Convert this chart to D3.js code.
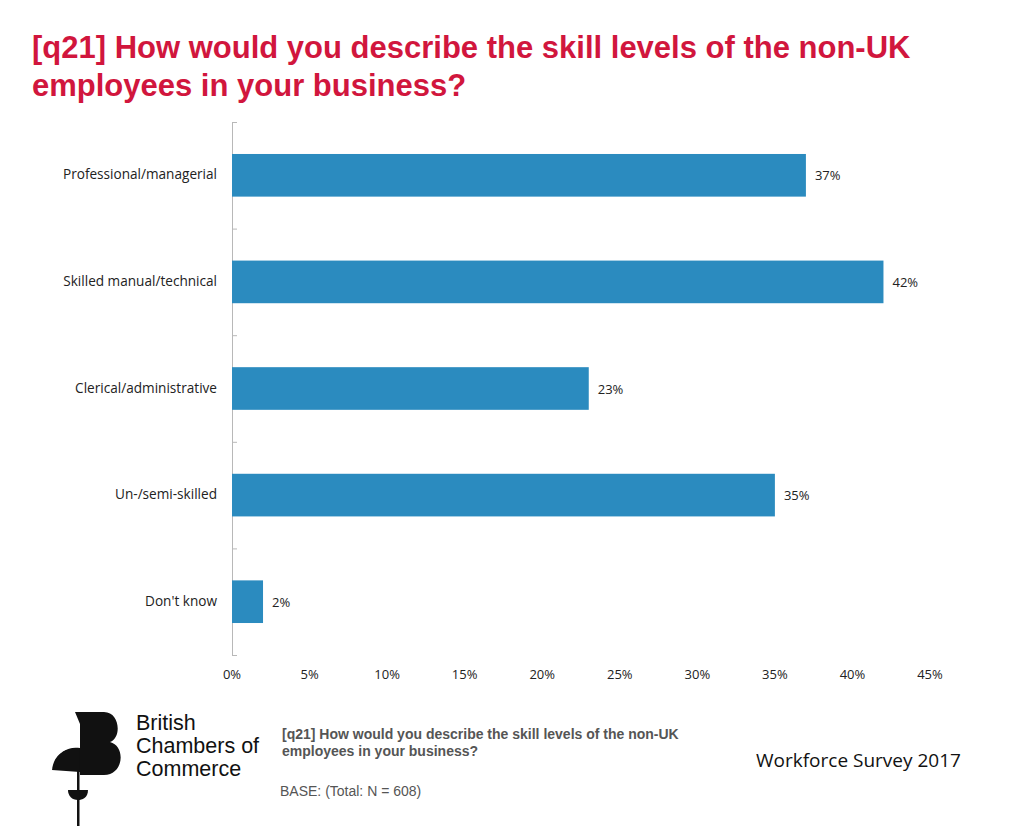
<!DOCTYPE html>
<html><head><meta charset="utf-8">
<script src="https://cdn.jsdelivr.net/npm/d3@7"></script>
<style>body{margin:0;background:#fff}svg{display:block}</style>
</head><body>
<svg id="c" width="1024" height="826"></svg>
<script>
const categories = ["Professional/managerial", "Skilled manual/technical", "Clerical/administrative", "Un-/semi-skilled", "Don't know"];
const values = [37, 42, 23, 35, 2];
const xTicks = [0, 5, 10, 15, 20, 25, 30, 35, 40, 45];

const svg = d3.select("#c");
const title = ["[q21] How would you describe the skill levels of the non-UK", "employees in your business?"];
svg.selectAll("text.title").data(title).join("text")
  .attr("x", 32).attr("y", (d, i) => 58 + i * 38)
  .attr("font-family", "Liberation Sans, Arial, sans-serif").attr("font-size", 31)
  .attr("font-weight", "bold").attr("fill", "#d1163d").text(d => d);

const x = d3.scaleLinear().domain([0, 45]).range([232, 930]);
const y = d3.scaleBand().domain(categories).range([122, 655]).paddingInner(0.6).paddingOuter(0.3);

const g = svg.append("g");
g.append("line").attr("x1", 232.5).attr("x2", 232.5).attr("y1", 122).attr("y2", 655).attr("stroke", "#b8b8b8");
const step = (655 - 122) / categories.length;
d3.range(categories.length + 1).forEach(i => {
  g.append("line").attr("x1", 232).attr("x2", 237).attr("y1", 122 + i * step + 0.5).attr("y2", 122 + i * step + 0.5).attr("stroke", "#b8b8b8");
});

g.selectAll("rect").data(values).join("rect")
  .attr("x", x(0)).attr("y", (d, i) => y(categories[i]))
  .attr("width", d => x(d) - x(0)).attr("height", y.bandwidth())
  .attr("fill", "#2b8bbf");

const font = "Open Sans, Noto Sans, sans-serif";
g.selectAll("text.val").data(values).join("text")
  .attr("x", d => x(d) + 9).attr("y", (d, i) => y(categories[i]) + y.bandwidth() / 2 + 5)
  .attr("font-family", font).attr("font-size", 13).attr("fill", "#222").text(d => d + "%");
g.selectAll("text.cat").data(categories).join("text")
  .attr("x", 217).attr("y", d => y(d) + y.bandwidth() / 2 + 4)
  .attr("text-anchor", "end").attr("font-family", font).attr("font-size", 13.6).attr("fill", "#222").text(d => d);
g.selectAll("text.xt").data(xTicks).join("text")
  .attr("x", d => x(d)).attr("y", 679).attr("text-anchor", "middle")
  .attr("font-family", font).attr("font-size", 13).attr("fill", "#222").text(d => d + "%");

// footer
const foot = svg.append("g").attr("font-family", "Liberation Sans, Arial, sans-serif").attr("fill", "#555");
foot.append("text").attr("x", 282).attr("y", 739).attr("font-size", 14).attr("font-weight", "bold").text("[q21] How would you describe the skill levels of the non-UK");
foot.append("text").attr("x", 282).attr("y", 756).attr("font-size", 14).attr("font-weight", "bold").text("employees in your business?");
foot.append("text").attr("x", 280).attr("y", 796).attr("font-size", 14).text("BASE: (Total: N = 608)");
svg.append("text").attr("x", 756).attr("y", 767).attr("font-family", font).attr("font-size", 19).attr("fill", "#111").text("Workforce Survey 2017");

// logo
const logo = svg.append("g").attr("fill", "#111");
logo.append("path").attr("d", "M75,712 L104,712 C120,712 122,738 110,742 C126,746 124,775 104,775 L80,775 L80,752 C70,752 55,760 52,770 C56,752 68,746 80,748 L80,724 Z");
logo.append("path").attr("d", "M52,770 C54,752 68,748 80,748 L80,772 Z");
logo.append("path").attr("d", "M68,790 L88,790 C88,798 82,800 78,800 C72,800 68,796 68,790 Z");
logo.append("rect").attr("x", 77).attr("y", 748).attr("width", 2.5).attr("height", 78);
const lt = svg.append("g").attr("font-family", "Liberation Sans, Arial, sans-serif").attr("font-size", 21.5).attr("fill", "#111");
["British", "Chambers of", "Commerce"].forEach((t, i) => lt.append("text").attr("x", 136).attr("y", 730 + i * 23).text(t));
</script>
</body></html>
